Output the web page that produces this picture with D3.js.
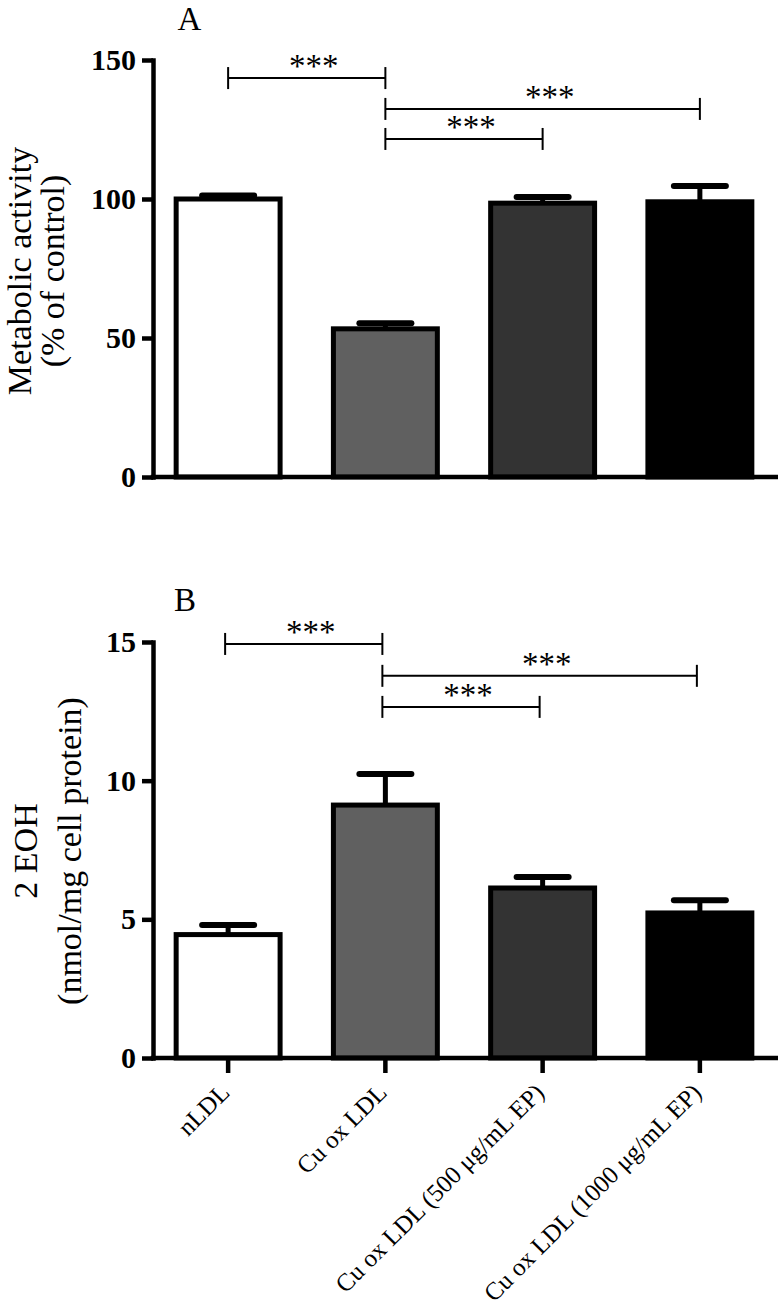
<!DOCTYPE html>
<html>
<head>
<meta charset="utf-8">
<script src="https://cdn.jsdelivr.net/npm/d3@7"></script>
<style>
  html, body { margin: 0; padding: 0; background: #fff; }
  svg { display: block; }
  text { font-family: "Liberation Serif", "Times New Roman", serif; fill: #000; }
</style>
</head>
<body>
<script>
// ---------------- data ----------------
const categories = ["nLDL", "Cu ox LDL", "Cu ox LDL (500 μg/mL EP)", "Cu ox LDL (1000 μg/mL EP)"];
const fills = ["#ffffff", "#606060", "#333333", "#000000"];

const metabolicMean = [100, 53.3, 98.5, 99.0];
const metabolicErr  = [1.3, 2.0, 2.2, 5.7];
const metabolicTicks = [0, 50, 100, 150];

const eohMean = [4.45, 9.12, 6.13, 5.23];
const eohErr  = [0.35, 1.12, 0.40, 0.46];
const eohTicks = [0, 5, 10, 15];

const sigPairs  = [[0, 1], [1, 3], [1, 2]];
const sigLabels = ["***", "***", "***"];
const sigLevelsA = [143.5, 132.4, 121.6];
const sigLevelsB = [14.93, 13.78, 12.66];

// ---------------- drawing ----------------
const W = 781, H = 1314;
const FONT = '"Liberation Serif", "Times New Roman", serif';
const svg = d3.select("body").append("svg").attr("width", W).attr("height", H);

function drawPanel(cfg) {
  const g = svg.append("g");
  const x = d3.scaleBand().domain(categories).range([149.5, 778.5])
    .paddingInner(0.339).paddingOuter(0.1695);
  const y = d3.scaleLinear().domain(cfg.domain).range([cfg.y0, cfg.y1]);
  const axisX = 153;

  // bars
  g.selectAll("rect.bar").data(categories).join("rect")
    .attr("class", "bar")
    .attr("x", d => x(d))
    .attr("width", x.bandwidth())
    .attr("y", (d, i) => y(cfg.mean[i]))
    .attr("height", (d, i) => y(0) - y(cfg.mean[i]))
    .attr("fill", (d, i) => fills[i])
    .attr("stroke", "#000")
    .attr("stroke-width", 5);

  // error bars (upper only)
  const eg = g.selectAll("g.err").data(categories).join("g").attr("class", "err");
  eg.append("line")
    .attr("x1", d => x(d) + x.bandwidth() / 2)
    .attr("x2", d => x(d) + x.bandwidth() / 2)
    .attr("y1", (d, i) => y(cfg.mean[i]))
    .attr("y2", (d, i) => y(cfg.mean[i] + cfg.err[i]))
    .attr("stroke", "#000").attr("stroke-width", 5);
  eg.append("line")
    .attr("x1", d => x(d) + x.bandwidth() / 2 - 26)
    .attr("x2", d => x(d) + x.bandwidth() / 2 + 26)
    .attr("y1", (d, i) => y(cfg.mean[i] + cfg.err[i]))
    .attr("y2", (d, i) => y(cfg.mean[i] + cfg.err[i]))
    .attr("stroke", "#000").attr("stroke-width", 6).attr("stroke-linecap", "round");

  // y axis
  const ya = g.append("g").attr("transform", `translate(${axisX},0)`)
    .call(d3.axisLeft(y).tickValues(cfg.ticks).tickSize(11).tickSizeOuter(0).tickPadding(6));
  ya.select(".domain").attr("stroke", "#000").attr("stroke-width", 4.5).attr("stroke-linecap", "square");
  ya.selectAll(".tick line").attr("stroke", "#000").attr("stroke-width", 4.5);
  ya.selectAll(".tick text")
    .style("font-family", FONT)
    .style("font-weight", "bold").style("font-size", "30px").attr("fill", "#000");

  // x axis line
  g.append("line")
    .attr("x1", axisX - 2.25).attr("x2", 778)
    .attr("y1", y(0)).attr("y2", y(0))
    .attr("stroke", "#000").attr("stroke-width", 4.5);

  if (cfg.showX) {
    const xa = g.append("g").attr("transform", `translate(0,${y(0)})`)
      .call(d3.axisBottom(x).tickSize(15).tickSizeOuter(0));
    xa.select(".domain").remove();
    xa.selectAll(".tick line").attr("stroke", "#000").attr("stroke-width", 4.5);
    xa.selectAll(".tick text")
      .style("font-family", FONT)
      .style("font-size", "25px").attr("fill", "#000")
      .attr("text-anchor", "end")
      .attr("dy", null).attr("y", null)
      .attr("transform", "translate(3,36) rotate(-45)");
  }

  // significance brackets
  sigPairs.forEach((p, k) => {
    const xa1 = x(categories[p[0]]) + x.bandwidth() / 2 + cfg.sigShift;
    const xa2 = x(categories[p[1]]) + x.bandwidth() / 2 + cfg.sigShift;
    const yy = y(cfg.sig[k]);
    const sg = g.append("g");
    sg.append("line").attr("x1", xa1).attr("x2", xa2).attr("y1", yy).attr("y2", yy)
      .attr("stroke", "#000").attr("stroke-width", 2);
    [xa1, xa2].forEach(xx => sg.append("line")
      .attr("x1", xx).attr("x2", xx).attr("y1", yy - 11).attr("y2", yy + 11)
      .attr("stroke", "#000").attr("stroke-width", 2));
    sg.append("text").attr("x", (xa1 + xa2) / 2 + 7).attr("y", yy - 1)
      .attr("text-anchor", "middle").style("font-size", "33px").text(sigLabels[k]);
  });

  // panel letter
  g.append("text").attr("x", cfg.letterX).attr("y", cfg.letterY)
    .attr("text-anchor", "middle").style("font-size", "33px").text(cfg.letter);

  // y label (two lines)
  cfg.ylab.forEach((txt, i) => {
    g.append("text").attr("transform", `translate(${cfg.ylabX[i]},${cfg.ylabY}) rotate(-90)`)
      .attr("text-anchor", "middle").style("font-size", "34px").text(txt);
  });
}

drawPanel({
  domain: [0, 150], y0: 477, y1: 60, ticks: metabolicTicks,
  mean: metabolicMean, err: metabolicErr, sig: sigLevelsA, sigShift: 0,
  showX: false, letter: "A", letterX: 189.5, letterY: 30,
  ylab: ["Metabolic activity", "(% of control)"], ylabX: [31, 64], ylabY: 271
});

drawPanel({
  domain: [0, 15], y0: 1058, y1: 642, ticks: eohTicks,
  mean: eohMean, err: eohErr, sig: sigLevelsB, sigShift: -3,
  showX: true, letter: "B", letterX: 185, letterY: 611,
  ylab: ["2 EOH", "(nmol/mg cell protein)"], ylabX: [37, 81], ylabY: 851
});
</script>
</body>
</html>
